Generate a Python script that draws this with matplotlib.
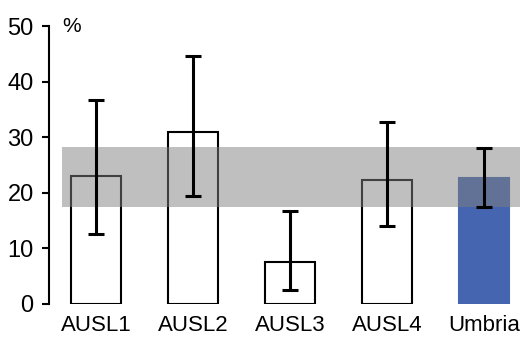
import matplotlib.pyplot as plt
import numpy as np

plt.rcParams['font.family'] = ['Liberation Sans', 'DejaVu Sans']

regions = ["AUSL1", "AUSL2", "AUSL3", "AUSL4", "Umbria"]
values = [23.0, 30.9, 7.6, 22.3, 22.6]
ci_low = [12.5, 19.4, 2.5, 14.0, 17.5]
ci_high = [36.7, 44.6, 16.8, 32.7, 28.0]
band_low, band_high = 17.4, 28.2

x = np.arange(len(regions))
vals = np.array(values)
yerr = [vals - np.array(ci_low), np.array(ci_high) - vals]
faces = ["white"] * 4 + ["#4565b0"]
edges = ["black"] * 4 + ["#4565b0"]

fig = plt.figure(figsize=(5.32, 3.47), dpi=100)
ax = fig.add_axes([0.092, 0.124, 0.904, 0.801])

ax.bar(x, vals, width=0.52, color=faces, edgecolor=edges, linewidth=1.5, zorder=1)
ax.fill_between([-0.35, 4.37], band_low, band_high, color="#808080", alpha=0.5,
                linewidth=0, zorder=2)
ax.errorbar(x, vals, yerr=yerr, fmt="none", ecolor="black", elinewidth=2.2,
            capsize=6, capthick=2.2, zorder=3)

ax.set_xlim(-0.485, 4.474)
ax.set_ylim(0, 50)
ax.set_yticks(range(0, 51, 10))
ax.set_xticks(x)
ax.set_xticklabels(regions)
ax.tick_params(axis="y", labelsize=17, width=1.5, length=5, direction="out", pad=6)
ax.tick_params(axis="x", labelsize=16, length=0, pad=8)
for s in ["top", "right", "bottom"]:
    ax.spines[s].set_visible(False)
ax.spines["left"].set_linewidth(1.5)
ax.text(-0.35, 50, "%", fontsize=15, va="center", ha="left")

fig.savefig("out.png", dpi=100)
